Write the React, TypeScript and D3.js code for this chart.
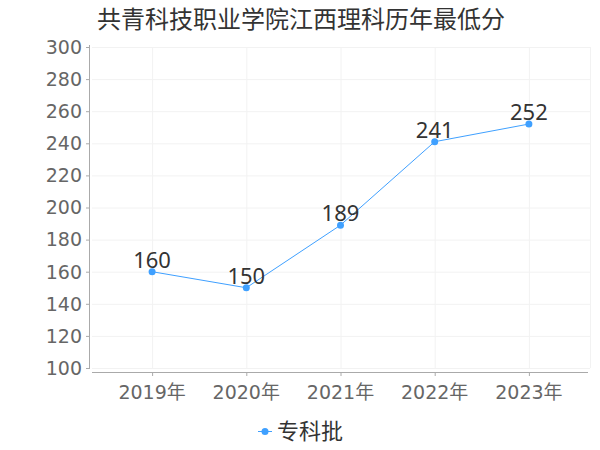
import React, { useEffect, useRef } from 'react';
import * as d3 from 'd3';

const years = ['2019年', '2020年', '2021年', '2022年', '2023年'];
const scores = [160, 150, 189, 241, 252];
const yTicks = [100, 120, 140, 160, 180, 200, 220, 240, 260, 280, 300];
const seriesName = '专科批';
const title = '共青科技职业学院江西理科历年最低分';

const FONT = '"DejaVu Sans", "Noto Sans CJK SC", sans-serif';

export default function App() {
  const svgRef = useRef<SVGSVGElement>(null);

  useEffect(() => {
    if (!svgRef.current) return;
    const svg = d3.select(svgRef.current);
    svg.selectAll('*').remove();

    const left = 92, right = 590;
    const x = d3.scalePoint<string>().domain(years).range([105, 576]).padding(0.5);
    const y = d3.scaleLinear().domain([100, 300]).range([368, 47]);

    // title
    svg.append('text')
      .attr('x', 97).attr('y', 28)
      .style('font-family', '"Noto Sans CJK SC", sans-serif')
      .style('font-size', '24px')
      .style('fill', '#333')
      .text(title);

    // grid
    svg.append('g').selectAll('line')
      .data(yTicks)
      .join('line')
      .attr('x1', left).attr('x2', right)
      .attr('y1', d => y(d) + 0.5).attr('y2', d => y(d) + 0.5)
      .attr('stroke', '#f2f2f2');
    svg.append('g').selectAll('line')
      .data(years)
      .join('line')
      .attr('x1', d => x(d)! + 0.5).attr('x2', d => x(d)! + 0.5)
      .attr('y1', 47).attr('y2', 368)
      .attr('stroke', '#f2f2f2');
    svg.append('line')
      .attr('x1', right + 0.5).attr('x2', right + 0.5)
      .attr('y1', 47).attr('y2', 368)
      .attr('stroke', '#f2f2f2');

    // y axis
    const yAxis = svg.append('g');
    yAxis.append('line')
      .attr('x1', 89.5).attr('x2', 89.5).attr('y1', 45).attr('y2', 369)
      .attr('stroke', '#aaa');
    yAxis.selectAll('line.tick')
      .data(yTicks)
      .join('line')
      .attr('class', 'tick')
      .attr('x1', 86).attr('x2', 89)
      .attr('y1', d => y(d) + 0.5).attr('y2', d => y(d) + 0.5)
      .attr('stroke', '#aaa');
    yAxis.selectAll('text')
      .data(yTicks)
      .join('text')
      .attr('x', 82).attr('y', d => y(d))
      .attr('dy', '0.36em')
      .attr('text-anchor', 'end')
      .style('font-family', FONT)
      .style('font-size', '19px')
      .style('fill', '#666')
      .text(d => d);

    // x axis
    const xAxis = svg.append('g');
    xAxis.append('line')
      .attr('x1', left).attr('x2', 588).attr('y1', 372.5).attr('y2', 372.5)
      .attr('stroke', '#aaa');
    xAxis.selectAll('line.tick')
      .data(years)
      .join('line')
      .attr('class', 'tick')
      .attr('x1', d => x(d)! + 0.5).attr('x2', d => x(d)! + 0.5)
      .attr('y1', 372).attr('y2', 376)
      .attr('stroke', '#aaa');
    xAxis.selectAll('text')
      .data(years)
      .join('text')
      .attr('x', d => x(d)!).attr('y', 399)
      .attr('text-anchor', 'middle')
      .style('font-family', FONT)
      .style('font-size', '19px')
      .style('fill', '#666')
      .text(d => d);

    // line
    const line = d3.line<number>()
      .x((_, i) => x(years[i])!)
      .y(d => y(d));
    svg.append('path')
      .datum(scores)
      .attr('d', line)
      .attr('fill', 'none')
      .attr('stroke', '#3fa0ff')
      .attr('stroke-width', 1);

    svg.append('g').selectAll('circle')
      .data(scores)
      .join('circle')
      .attr('cx', (_, i) => x(years[i])!)
      .attr('cy', d => y(d))
      .attr('r', 3.5)
      .attr('fill', '#3fa0ff');

    svg.append('g').selectAll('text')
      .data(scores)
      .join('text')
      .attr('x', (_, i) => x(years[i])!)
      .attr('y', d => y(d) - 4)
      .attr('text-anchor', 'middle')
      .style('font-family', '"Noto Sans", sans-serif')
      .style('font-size', '22px')
      .style('fill', '#333')
      .text(d => d);

    // legend
    const lg = svg.append('g');
    lg.append('line')
      .attr('x1', 258).attr('x2', 272).attr('y1', 431.5).attr('y2', 431.5)
      .attr('stroke', '#3fa0ff');
    lg.append('circle')
      .attr('cx', 265).attr('cy', 431.5).attr('r', 3.5)
      .attr('fill', '#3fa0ff');
    lg.append('text')
      .attr('x', 277).attr('y', 431)
      .attr('dy', '0.36em')
      .style('font-family', '"Noto Sans CJK SC", sans-serif')
      .style('font-size', '22px')
      .style('fill', '#333')
      .text(seriesName);
  }, []);

  return (
    <svg
      ref={svgRef}
      width={600}
      height={450}
      style={{ position: 'absolute', left: 0, top: 0, background: '#fff' }}
    />
  );
}
